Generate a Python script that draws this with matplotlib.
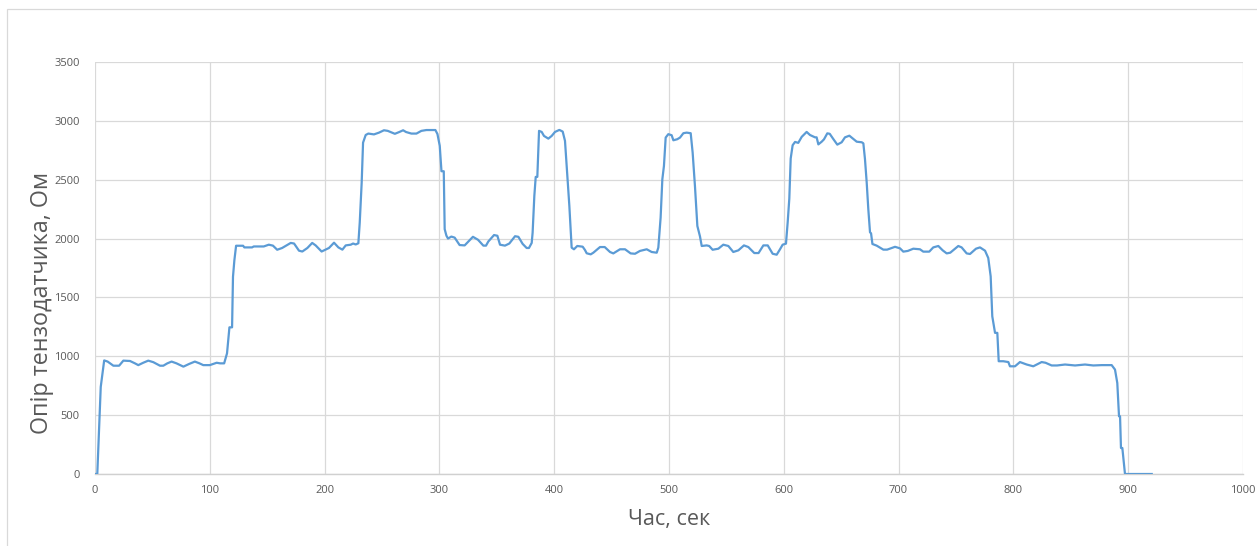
import matplotlib
matplotlib.use("Agg")
import matplotlib.pyplot as plt
from matplotlib.patches import Rectangle

plt.rcParams['font.family'] = ['Open Sans', 'DejaVu Sans']

# Time (s) and strain-gauge resistance (Ohm)
time_s = [
    0, 2, 5, 8, 11, 16, 21, 24.7, 30.5, 34.8, 37.7, 42, 46.4, 50.8, 56.6, 59.5,
    63, 66.7, 71, 77, 82, 87, 91, 94.3, 100, 106, 109, 112.5, 115, 117.1, 119.4,
    120.2, 121.4, 122.9,
    129, 130.1, 136.8, 138.3, 147, 151.4, 155, 158.7, 163, 170.5, 173.4, 177.7,
    180.6, 185, 189.2, 192.2, 197.4, 203.8, 208.2, 212, 215.5, 218.4, 222.8,
    224.8, 227.1, 229.4,
    230.6, 232.3, 233.5, 235.8, 238.1, 243, 247.4, 251.7, 255, 261.2, 265,
    268.4, 271, 275.6, 280, 284.3, 288.7, 296.5, 298.3, 300.3, 301.8, 303.8,
    304.6, 306.1, 307.5, 310.4, 313.3, 317.6, 322, 329.2, 333.6, 338.3, 340.6,
    342.6, 347.6, 350.5, 352.8, 357.1, 360.9, 365.9, 368.8, 372.5, 376, 378,
    380.4, 381.2, 382.7, 383.9, 385.3, 386.8, 389.1, 391.1, 394.9, 397.8, 400.7,
    404.5, 407.4, 409.4, 410.9, 413.2, 415.2, 417.2, 420.1, 424.8, 426.8, 428.3,
    431.8, 434.1, 439.9, 444, 448.6, 451.5, 457.3, 461.7, 466.6, 470.4, 474.7,
    480.6, 484.9, 489.3, 490.7, 492.7, 494.2, 495.6, 497.1, 499.4, 502.3, 503.8,
    507.2, 509.6, 512.5, 515.4, 518.9, 520.6, 522.6, 524.7, 527, 528.5, 532.8,
    535, 538, 543, 547.3, 551.7, 556, 560.4, 565.3, 569.1, 574.3, 578, 582.2,
    586, 590.3, 593.8, 596.7, 599, 601.9,
    603.4, 604.8, 606, 607.7, 609.8, 612.6, 615.6, 619.9, 622.8, 627.2, 628.6,
    630.1, 633, 635, 637.9, 640, 643.1, 646.6, 650.4, 653.3, 657.1, 660, 663.5,
    667.9, 669.3, 670.7, 672.2, 673.6, 675.1, 676, 677.2, 680.9, 686.7, 690,
    696.9, 701.2, 704.1, 708, 712.8, 718.6, 721.5, 726.7, 730.2, 734.6, 738.4,
    741.9, 745, 752, 754.9, 759.3, 762.2, 767.4, 770.9, 775.3, 778.1, 780.2,
    781.6, 784, 786, 787.2, 791.2, 795.6, 797, 801.4, 805.7, 811.6, 817.3,
    824.6, 828, 833.3, 838, 845, 853.7, 862.4, 869.6, 876.9, 885.6, 888.5,
    890.5, 892, 892.9, 893.7, 894.9, 897.2, 920.5,
]
resistance_ohm = [
    0, 0, 740, 965, 955, 920, 920, 963, 960, 940, 925, 945, 963, 950, 920, 920,
    940, 955, 940, 912, 935, 955, 940, 925, 925, 945, 940, 940, 1025, 1246, 1246,
    1676, 1815, 1939,
    1939, 1925, 1925, 1933, 1933, 1948, 1940, 1905, 1920, 1963, 1958, 1897,
    1890, 1920, 1963, 1942, 1890, 1920, 1965, 1925, 1906, 1942, 1948,
    1958, 1950, 1960,
    2135, 2475, 2815, 2880, 2892, 2885, 2900, 2920, 2915, 2890, 2905,
    2920, 2905, 2892, 2892, 2915, 2922, 2922, 2888, 2788, 2572, 2572,
    2080, 2025, 2000, 2017, 2008, 1945, 1942, 2015, 1990, 1940, 1940,
    1975, 2030, 2024, 1948, 1940, 1958, 2020, 2015, 1955, 1920, 1920,
    1963, 2050, 2363, 2524, 2524, 2915, 2906, 2872, 2849, 2872, 2906,
    2923, 2909, 2830, 2617, 2277, 1923, 1909, 1937, 1931, 1903, 1875,
    1866, 1880, 1928, 1928, 1886, 1874, 1909, 1909, 1874, 1871, 1895,
    1909, 1886, 1880, 1923, 2178, 2504, 2617, 2858, 2887, 2878, 2835,
    2844, 2858, 2895, 2900, 2895, 2730, 2447, 2107, 2018, 1937, 1942,
    1937, 1905, 1914, 1948, 1937, 1886, 1900, 1942, 1928, 1877, 1877, 1942,
    1942, 1871, 1863, 1909, 1948, 1957,
    2141, 2340, 2680, 2793, 2821, 2813, 2864, 2906, 2880, 2860, 2860,
    2800, 2823, 2843, 2894, 2890, 2846, 2798, 2818, 2860, 2874, 2851, 2823,
    2818, 2809, 2676, 2478, 2252, 2053, 2045, 1954, 1940, 1906, 1906,
    1930, 1917, 1889, 1895, 1914, 1909, 1889, 1889, 1925, 1937, 1900,
    1874, 1880, 1937, 1925, 1874, 1869, 1914, 1925, 1897, 1835, 1679,
    1340, 1199, 1199, 958, 958, 951, 915, 915, 951, 930, 915,
    951, 945, 922, 922, 930, 922, 930, 922, 925, 925, 887,
    773, 490, 490, 221, 221, 0, 0,
]
assert len(time_s) == len(resistance_ohm)

x_ticks = list(range(0, 1001, 100))
y_ticks = list(range(0, 3501, 500))
x_label = "Час, сек"
y_label = "Опір тензодатчика, Ом"

W, H = 1257, 546
fig = plt.figure(figsize=(W / 100, H / 100), dpi=100)
fig.patch.set_facecolor("white")

# chart-area border (Excel-style)
fig.add_artist(Rectangle((7 / W, -0.05), 1.2, 1 - 9 / H + 0.05,
                         transform=fig.transFigure, fill=False,
                         edgecolor="#D9D9D9", linewidth=0.9))

ax = fig.add_axes([95 / W, 1 - 474 / H, (1243 - 95) / W, (474 - 62) / H])
ax.plot(time_s, resistance_ohm, color="#5B9BD5", linewidth=1.6,
        solid_joinstyle="round", zorder=3)

ax.set_xlim(0, 1000)
ax.set_ylim(0, 3500)
ax.set_xticks(x_ticks)
ax.set_yticks(y_ticks)
ax.grid(True, color="#D9D9D9", linewidth=0.9)
ax.set_axisbelow(True)
for s in ["top", "right", "left"]:
    ax.spines[s].set_visible(False)
ax.spines["bottom"].set_color("#D0D0D0")
ax.spines["bottom"].set_linewidth(1.0)
ax.tick_params(axis="both", length=0, labelsize=8, labelcolor="#595959")
ax.tick_params(axis="y", pad=11)
ax.tick_params(axis="x", pad=8)

fig.text(669 / W, 1 - 519 / H, x_label, ha="center", va="center",
         fontsize=15.5, color="#595959")
fig.text(42 / W, 1 - 303 / H, y_label, ha="center", va="center",
         rotation=90, fontsize=16.8, color="#595959")

fig.savefig("out.png", dpi=100, facecolor="white")
